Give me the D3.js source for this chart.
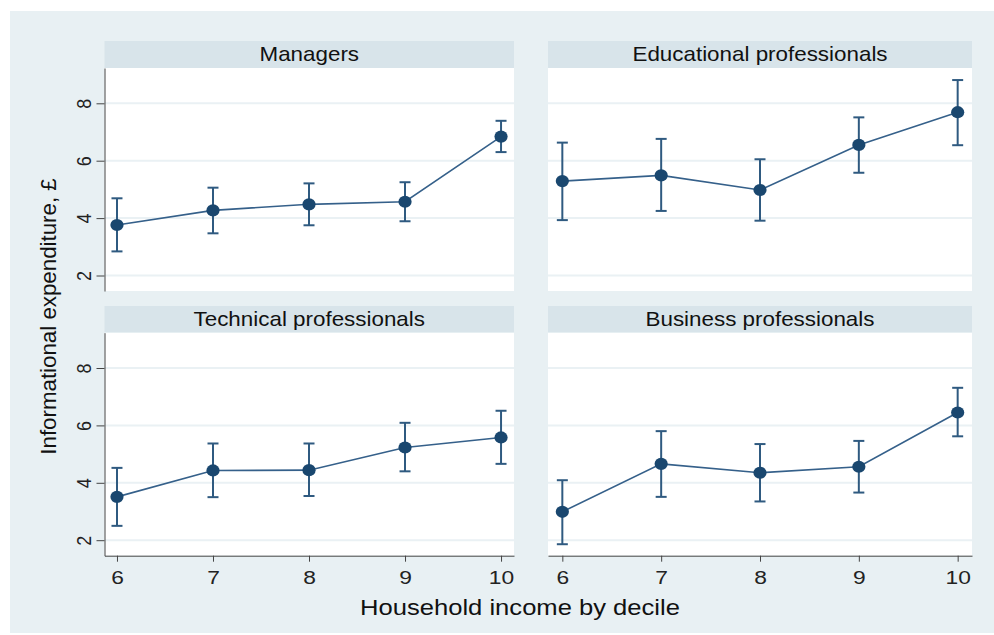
<!DOCTYPE html>
<html>
<head>
<meta charset="utf-8">
<script src="https://cdn.jsdelivr.net/npm/d3@7"></script>
<style>
  body { margin: 0; background: #fff; }
  svg { display: block; font-family: "Liberation Sans", Arial, sans-serif; }
</style>
</head>
<body>
<svg id="chart" width="994" height="635"></svg>
<script>
// data
const deciles = [6, 7, 8, 9, 10];
const groups = ['Managers', 'Educational professionals', 'Technical professionals', 'Business professionals'];
const yTicks = [2, 4, 6, 8];

const managersMean = [3.76, 4.27, 4.48, 4.57, 6.84];
const managersLow  = [2.84, 3.47, 3.75, 3.89, 6.30];
const managersHigh = [4.69, 5.06, 5.21, 5.25, 7.39];

const educationMean = [5.29, 5.49, 4.98, 6.55, 7.69];
const educationLow  = [3.93, 4.25, 3.91, 5.58, 6.54];
const educationHigh = [6.63, 6.76, 6.05, 7.51, 8.81];

const technicalMean = [3.51, 4.43, 4.44, 5.23, 5.58];
const technicalLow  = [2.50, 3.50, 3.54, 4.40, 4.66];
const technicalHigh = [4.52, 5.37, 5.37, 6.09, 6.51];

const businessMean = [2.99, 4.66, 4.35, 4.56, 6.45];
const businessLow  = [1.86, 3.51, 3.35, 3.66, 5.62];
const businessHigh = [4.09, 5.80, 5.35, 5.46, 7.31];

const series = [
  [managersMean, managersLow, managersHigh],
  [educationMean, educationLow, educationHigh],
  [technicalMean, technicalLow, technicalHigh],
  [businessMean, businessLow, businessHigh]
];

const navy = '#1a476f';
const stretch = 1.15; // the original text looks a bit wide
const svg = d3.select('#chart');

// outer graph region
svg.append('rect').attr('x', 10).attr('y', 11).attr('width', 984).attr('height', 622).attr('fill', '#e8f0f3');

const cols = [{x0: 104.5, x1: 514, dom: [5.87, 10.135]}, {x0: 548, x1: 972, dom: [5.855, 10.145]}];
const rows = [{hTop: 41, top: 68, bottom: 291}, {hTop: 306, top: 332.7, bottom: 555.7}];
const yDomain = [1.46, 9.23];

groups.forEach((name, i) => {
  const col = cols[i % 2], row = rows[Math.floor(i / 2)];
  const x = d3.scaleLinear().domain(col.dom).range([col.x0, col.x1]);
  const y = d3.scaleLinear().domain(yDomain).range([row.bottom, row.top]);
  const g = svg.append('g');

  // strip header
  g.append('rect').attr('x', col.x0).attr('y', row.hTop).attr('width', col.x1 - col.x0).attr('height', row.top - row.hTop).attr('fill', '#d8e4ea');
  g.append('text')
    .attr('transform', `translate(${(col.x0 + col.x1) / 2},${row.hTop + 20}) scale(1.12,1)`)
    .attr('text-anchor', 'middle').attr('font-size', 20).attr('fill', '#111').text(name);

  g.append('rect').attr('x', col.x0).attr('y', row.top).attr('width', col.x1 - col.x0).attr('height', row.bottom - row.top).attr('fill', '#fff');

  // grid
  g.selectAll('.grid').data(yTicks).join('line')
    .attr('x1', col.x0).attr('x2', col.x1)
    .attr('y1', d => y(d)).attr('y2', d => y(d))
    .attr('stroke', '#eaf1f4').attr('stroke-width', 2);

  const [mean, low, high] = series[i];
  const pts = deciles.map((d, j) => ({d: d, m: mean[j], lo: low[j], hi: high[j]}));

  // error bars
  const eb = g.selectAll('.eb').data(pts).join('g').attr('stroke', '#2f5a80').attr('stroke-width', 2);
  eb.append('line').attr('x1', d => x(d.d)).attr('x2', d => x(d.d)).attr('y1', d => y(d.lo)).attr('y2', d => y(d.hi));
  eb.append('line').attr('x1', d => x(d.d) - 5.5).attr('x2', d => x(d.d) + 5.5).attr('y1', d => y(d.lo)).attr('y2', d => y(d.lo));
  eb.append('line').attr('x1', d => x(d.d) - 5.5).attr('x2', d => x(d.d) + 5.5).attr('y1', d => y(d.hi)).attr('y2', d => y(d.hi));

  g.append('path').datum(pts)
    .attr('d', d3.line().x(d => x(d.d)).y(d => y(d.m)))
    .attr('fill', 'none').attr('stroke', '#35608a').attr('stroke-width', 1.6);

  g.selectAll('.pt').data(pts).join('ellipse')
    .attr('cx', d => x(d.d)).attr('cy', d => y(d.m)).attr('rx', 6.6).attr('ry', 6.1).attr('fill', navy);

  // y axis on left column
  if (i % 2 === 0) {
    const ay = g.append('g').attr('transform', `translate(${col.x0},0)`)
      .call(d3.axisLeft(y).tickValues(yTicks).tickSize(8).tickSizeOuter(0));
    ay.select('.domain').attr('stroke', '#444');
    ay.selectAll('.tick line').attr('stroke', '#444');
    ay.selectAll('.tick text').attr('font-size', 18).attr('fill', '#222')
      .attr('text-anchor', 'middle').attr('dy', 0).attr('x', 0).attr('y', 0)
      .attr('transform', `translate(-13.5,0) scale(${stretch},1) rotate(-90)`);
  }
  // x axis on bottom row
  if (i >= 2) {
    const ax = g.append('g').attr('transform', `translate(0,${row.bottom})`)
      .call(d3.axisBottom(x).tickValues(deciles).tickFormat(d3.format('d')).tickSize(6).tickSizeOuter(0));
    ax.select('.domain').attr('stroke', '#444');
    ax.selectAll('.tick line').attr('stroke', '#444');
    ax.selectAll('.tick text').attr('font-size', 19).attr('fill', '#222')
      .attr('y', 0).attr('dy', 0)
      .attr('transform', `translate(0,28.3) scale(1.2,1)`);
  }
});

svg.append('text').attr('transform', 'translate(520,615) scale(1.19,1)').attr('text-anchor', 'middle')
  .attr('font-size', 21.5).attr('fill', '#111').text('Household income by decile');
svg.append('text').attr('transform', 'translate(56,316.5) rotate(-90)').attr('text-anchor', 'middle')
  .attr('font-size', 22.3).attr('fill', '#111').text('Informational expenditure, £');
</script>
</body>
</html>
